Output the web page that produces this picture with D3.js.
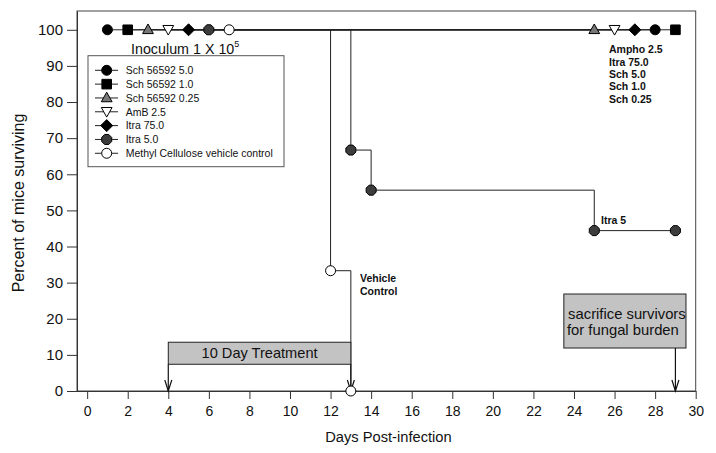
<!DOCTYPE html>
<html>
<head>
<meta charset="utf-8">
<script src="https://cdn.jsdelivr.net/npm/d3@7"></script>
<style>
  html, body { margin: 0; padding: 0; background: #fff; }
  svg { display: block; font-family: "Liberation Sans", Arial, sans-serif; }
</style>
</head>
<body>
<svg id="chart" width="716" height="453"></svg>
<script>
// ---------------- data ----------------
const seriesLabels = ["Sch 56592 5.0", "Sch 56592 1.0", "Sch 56592 0.25", "AmB 2.5", "Itra 75.0", "Itra 5.0", "Methyl Cellulose vehicle control"];
const seriesSymbols = ["circle", "square", "triangle", "triangleDown", "diamond", "hexagon", "openCircle"];

const daysSch50 = [1, 28];        const survSch50 = [100, 100];
const daysSch10 = [2, 29];        const survSch10 = [100, 100];
const daysSch025 = [3, 25];       const survSch025 = [100, 100];
const daysAmB = [4, 26];          const survAmB = [100, 100];
const daysItra75 = [5, 27];       const survItra75 = [100, 100];
const daysItra5 = [6, 13, 14, 25, 29];   const survItra5 = [100, 66.7, 55.6, 44.4, 44.4];
const daysVehicle = [7, 12, 13];  const survVehicle = [100, 33.3, 0];

const xTicks = d3.range(0, 31, 2);
const yTicks = d3.range(0, 101, 10);
const treatmentDays = [4, 13];
const sacrificeDay = 29;
const rightLabels = ["Ampho 2.5", "Itra 75.0", "Sch 5.0", "Sch 1.0", "Sch 0.25"];

// ---------------- layout ----------------
const svg = d3.select("#chart");
const x = d3.scaleLinear().domain([-0.5, 30]).range([77, 695.7]);
const y = d3.scaleLinear().domain([0, 105.2]).range([391, 11]);

const seriesData = [
  [daysSch50, survSch50], [daysSch10, survSch10], [daysSch025, survSch025],
  [daysAmB, survAmB], [daysItra75, survItra75], [daysItra5, survItra5], [daysVehicle, survVehicle]
].map(([d, s]) => d.map((v, i) => ({ day: v, surv: s[i] })));

// ---------------- symbol shapes ----------------
function symbolPath(type) {
  switch (type) {
    case "circle": case "openCircle":
      return "M5,0A5,5 0 1,1 -5,0A5,5 0 1,1 5,0Z";
    case "square": return "M-4.8,-4.8H4.8V4.8H-4.8Z";
    case "triangle": return "M0,-5.8L5.4,3.8L-5.4,3.8Z";
    case "triangleDown": return "M0,5.3L5.4,-4.3L-5.4,-4.3Z";
    case "diamond": return "M0,-6L6,0L0,6L-6,0Z";
    case "hexagon": {
      const pts = d3.range(8).map(i => {
        const a = Math.PI / 8 + i * Math.PI / 4;
        return [5.4 * Math.cos(a), 5.4 * Math.sin(a)];
      });
      return "M" + pts.map(p => p.join(",")).join("L") + "Z";
    }
  }
}
const symbolFill = { circle: "#000", square: "#000", triangle: "#777", triangleDown: "#fff", diamond: "#000", hexagon: "#3c3c3c", openCircle: "#fff" };

// ---------------- frame & axes ----------------
const frameColor = "#333";
svg.append("rect").attr("x", x(-0.5)).attr("y", y(105.2))
  .attr("width", x(30) - x(-0.5)).attr("height", y(0) - y(105.2))
  .attr("fill", "none").attr("stroke", "#444").attr("stroke-width", 1);

const xAxis = svg.append("g").attr("transform", `translate(0,${y(0)})`)
  .call(d3.axisBottom(x).tickValues(xTicks).tickSize(8).tickSizeOuter(0).tickPadding(7));
xAxis.select(".domain").attr("d", `M70,0.5H${x(30)}`);
const yAxis = svg.append("g").attr("transform", `translate(${x(-0.5)},0)`)
  .call(d3.axisLeft(y).tickValues(yTicks).tickSize(10).tickSizeOuter(0).tickPadding(4));
[xAxis, yAxis].forEach(g => {
  g.selectAll("path, line").attr("stroke", frameColor);
  g.selectAll("text").attr("fill", "#111").attr("font-family", "Liberation Sans, Arial, sans-serif");
});
xAxis.selectAll("text").attr("font-size", 14);
yAxis.selectAll("text").attr("font-size", 15);

svg.append("text").attr("x", x(15) - 3).attr("y", 442).attr("text-anchor", "middle")
  .attr("font-size", 14.7).attr("fill", "#111").text("Days Post-infection");
svg.append("text").attr("transform", "translate(24,203) rotate(-90)").attr("text-anchor", "middle")
  .attr("font-size", 16).attr("fill", "#111").text("Percent of mice surviving");

// ---------------- lines ----------------
const line = d3.line().x(d => x(d.day)).y(d => y(d.surv)).curve(d3.curveStepAfter);
const gLines = svg.append("g");
seriesData.forEach(s => {
  gLines.append("path").attr("d", line(s)).attr("fill", "none").attr("stroke", "#222").attr("stroke-width", 1);
});

// ---------------- annotation boxes ----------------
const boxFill = "#c3c3c3";
svg.append("rect").attr("x", x(treatmentDays[0])).attr("y", y(13.5))
  .attr("width", x(treatmentDays[1]) - x(treatmentDays[0])).attr("height", y(7.4) - y(13.5))
  .attr("fill", boxFill).attr("stroke", "#222").attr("stroke-width", 1);
svg.append("text").attr("x", (x(treatmentDays[0]) + x(treatmentDays[1])) / 2).attr("y", y(10.45) + 5.2)
  .attr("text-anchor", "middle").attr("font-size", 14.6).attr("fill", "#111").text("10 Day Treatment");
svg.append("rect").attr("x", x(23.5)).attr("y", y(26.85))
  .attr("width", x(29.52) - x(23.5)).attr("height", y(11.9) - y(26.85))
  .attr("fill", boxFill).attr("stroke", "#222").attr("stroke-width", 1);
svg.append("text").attr("x", (x(23.5) + x(29.52)) / 2 + 2).attr("y", 318.5)
  .attr("text-anchor", "middle").attr("font-size", 14.8).attr("fill", "#111").text("sacrifice survivors");
svg.append("text").attr("x", (x(23.5) + x(29.52)) / 2 - 2).attr("y", 334.5)
  .attr("text-anchor", "middle").attr("font-size", 14.8).attr("fill", "#111").text("for fungal burden");

function arrow(day, fromVal) {
  const g = svg.append("g").attr("stroke", "#111").attr("stroke-width", 1.2).attr("fill", "none");
  g.append("line").attr("x1", x(day)).attr("x2", x(day)).attr("y1", y(fromVal)).attr("y2", y(0));
  g.append("path").attr("d", `M${x(day) - 3.5},${y(0) - 11}L${x(day)},${y(0)}L${x(day) + 3.5},${y(0) - 11}`);
}
arrow(treatmentDays[0], 7.4);
arrow(treatmentDays[1], 7.4);
arrow(sacrificeDay, 11.9);

// ---------------- legend ----------------
const legend = svg.append("g");
legend.append("rect").attr("x", 88).attr("y", 55.7).attr("width", 196).attr("height", 111)
  .attr("fill", "#fff").attr("stroke", "#555").attr("stroke-width", 1);
seriesLabels.forEach((lab, i) => {
  const cy = 70.3 + i * 13.83;
  const g = legend.append("g");
  g.append("line").attr("x1", 95).attr("x2", 118).attr("y1", cy).attr("y2", cy).attr("stroke", "#222");
  const t = seriesSymbols[i];
  g.append("path").attr("transform", `translate(106.7,${cy})`).attr("d", symbolPath(t))
    .attr("fill", symbolFill[t]).attr("stroke", "#000").attr("stroke-width", 1);
  g.append("text").attr("x", 125.7).attr("y", cy + 3.8).attr("font-size", 10.5).attr("fill", "#111").text(lab);
});

// ---------------- markers ----------------
const gMarks = svg.append("g");
seriesData.forEach((s, i) => {
  const t = seriesSymbols[i];
  gMarks.selectAll(null).data(s).join("path")
    .attr("transform", d => `translate(${x(d.day)},${y(d.surv)})`)
    .attr("d", symbolPath(t))
    .attr("fill", symbolFill[t]).attr("stroke", "#000").attr("stroke-width", 1);
});

// ---------------- texts ----------------
const inoc = svg.append("text").attr("x", 131).attr("y", 53.5).attr("font-size", 14.3).attr("fill", "#111");
inoc.append("tspan").text("Inoculum 1 X 10");
inoc.append("tspan").attr("dy", -7).attr("font-size", 9).text("5");

const bold = svg.append("g").attr("font-weight", "bold").attr("font-size", 10.5).attr("fill", "#111");
rightLabels.forEach((t, i) => {
  bold.append("text").attr("x", 609).attr("y", 53.3 + i * 12.3).text(t);
});
bold.append("text").attr("x", 360).attr("y", 282.2).text("Vehicle");
bold.append("text").attr("x", 360).attr("y", 294.6).text("Control");
bold.append("text").attr("x", 601).attr("y", 224).text("Itra 5");
</script>
</body>
</html>
